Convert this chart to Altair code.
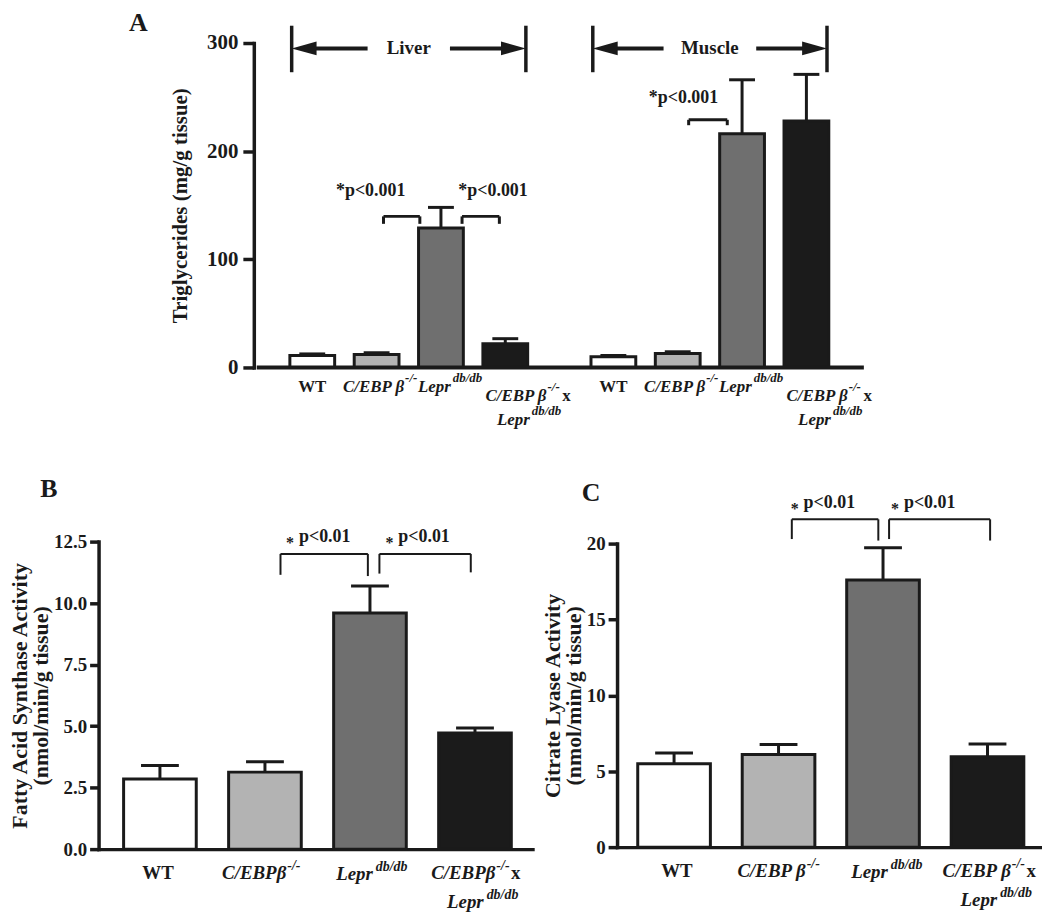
import altair as alt
import pandas as pd

FONT = "Liberation Serif"
INK = "#1a1a1a"

# ---------------- data ----------------
groups = ["WT", "C/EBPb-/-", "Lepr db/db", "C/EBPb-/- x Lepr db/db"]
fills = ["#ffffff", "#b3b3b3", "#6f6f6f", "#1b1b1b"]

# Panel A: triglycerides (mg/g tissue), liver then muscle
a_tissue = ["Liver"] * 4 + ["Muscle"] * 4
a_pos = [0, 1, 2, 3, 4.68, 5.68, 6.68, 7.68]
a_mean = [11, 12, 129, 22, 10, 13, 216, 228]
a_err = [1.5, 1.6, 19, 4.6, 1, 1.5, 50, 43]
a_yticks = [0, 100, 200, 300]
a_sig_x = [0.908, 2.81, 5.77]
a_sig_y = [163, 163, 249]
a_sig_text = ["*p<0.001", "*p<0.001", "*p<0.001"]
# brackets: x_left, x_right, y_top, y_leg_left, y_leg_right
a_brackets = [(1.107, 1.672, 139.7, 132.8, 132.8),
              (2.328, 2.908, 139.7, 132.8, 132.8),
              (5.85, 6.45, 229, 224, 224)]
hdr_name = ["Liver", "Muscle"]
hdr_left = [-0.32, 4.36]
hdr_right = [3.32, 8.0]
hdr_center = [1.5, 6.18]
hdr_gap = [0.64, 0.72]
hdr_y, hdr_y_lo, hdr_y_hi = 295, 273, 316

# Panel B: fatty acid synthase activity
b_pos = [0, 1, 2, 3]
b_mean = [2.85, 3.13, 9.6, 4.72]
b_err = [0.55, 0.42, 1.1, 0.2]
b_yticks = [0, 2.5, 5, 7.5, 10, 12.5]
b_sig_x = [1.324, 2.27]
b_sig_y = [12.7, 12.7]
b_brackets = [(1.148, 1.98, 12.0, 11.15, 11.1),
              (2.09, 2.96, 12.0, 11.2, 11.25)]

# Panel C: citrate lyase activity
c_pos = [0, 1, 2, 3]
c_mean = [5.5, 6.1, 17.6, 5.95]
c_err = [0.7, 0.66, 2.13, 0.85]
c_yticks = [0, 5, 10, 15, 20]
c_sig_x = [1.24, 2.2]
c_sig_y = [22.7, 22.7]
c_brackets = [(1.127, 1.955, 21.6, 20.3, 20.2),
              (2.058, 3.025, 21.6, 20.3, 20.2)]

# ---------------- layout (pixels) ----------------
A_W, A_H = 774, 326
A_XDOM = [-3.244, 8.573]
A_YAX_OFFSET = -156
B_W, B_H = 436, 309
B_XDOM = [-0.537, 3.5]
C_W, C_H = 427, 305
C_XDOM = [-0.498, 3.474]


def encoders(xdom, ydom, yaxis, xaxis):
    def X(f):
        return alt.X(f, type="quantitative", scale=alt.Scale(domain=xdom, nice=False, zero=False), axis=xaxis)

    def Y(f):
        return alt.Y(f, type="quantitative", scale=alt.Scale(domain=ydom, nice=False, zero=False), axis=yaxis)
    return X, Y


def bars_layers(pos, mean, err, X, Y, bar_w, cap_w, lw):
    df = pd.DataFrame({"pos": pos, "mean": mean, "hi": [m + e for m, e in zip(mean, err)],
                       "fill": (fills * 2)[:len(pos)]})
    rule = alt.Chart(df).mark_rule(color=INK, strokeWidth=lw).encode(x=X("pos"), y=Y("mean"), y2="hi:Q")
    cap = alt.Chart(df).mark_tick(orient="horizontal", color=INK, size=cap_w, thickness=lw, opacity=1).encode(
        x=X("pos"), y=Y("hi"))
    bar = alt.Chart(df).mark_bar(size=bar_w, stroke=INK, strokeWidth=3).encode(
        x=X("pos"), y=Y("mean"), fill=alt.Fill("fill:N", scale=None))
    return [rule, cap, bar]


def segs_layer(segs, X, Y, lw):
    df = pd.DataFrame(segs, columns=["x", "x2", "y", "y2"])
    return alt.Chart(df).mark_rule(color=INK, strokeWidth=lw).encode(x=X("x"), x2="x2:Q", y=Y("y"), y2="y2:Q")


def bracket_segs(brs):
    out = []
    for xl, xr, yt, yl, yr in brs:
        out.append((xl, xr, yt, yt))
        out.append((xl, xl, yl, yt))
        out.append((xr, xr, yr, yt))
    return out


def label_layers(pieces, xs, ys, X, Y):
    df = pd.DataFrame(pieces, columns=["pos", "dx", "dy", "text", "style", "align", "size"])
    df["lx"] = df["pos"] + df["dx"] / xs
    df["ly"] = -df["dy"] / ys
    out = []
    for (style, align), sub in df.groupby(["style", "align"]):
        out.append(alt.Chart(sub.reset_index(drop=True)).mark_text(
            font=FONT, fontWeight="bold", fontStyle=style, align=align, baseline="middle", color=INK
        ).encode(x=X("lx"), y=Y("ly"), text="text:N", size=alt.Size("size:Q", scale=None)))
    return out


def letter(ch, px, py):
    return alt.Chart(pd.DataFrame({"t": [ch]})).mark_text(
        font=FONT, fontWeight="bold", fontSize=26, color=INK, align="center", baseline="middle"
    ).encode(text="t:N", x=alt.value(px), y=alt.value(py))


# ---------------- Panel A ----------------
a_yaxis = alt.Axis(values=a_yticks, offset=A_YAX_OFFSET, title="Triglycerides (mg/g tissue)",
                   titleFontSize=21, titlePadding=16, labelFontSize=21, tickSize=11, labelPadding=5,
                   domainWidth=3.5, tickWidth=3.5)
XA, YA = encoders(A_XDOM, [0, 300], a_yaxis, None)
a_px_x = 65.5
a_px_y = A_H / 300

a_layers = bars_layers(a_pos, a_mean, a_err, XA, YA, 45, 26, 3)
a_layers.append(segs_layer([(-0.863, A_XDOM[1], 0, 0)], XA, YA, 4))
a_layers.append(segs_layer(bracket_segs(a_brackets), XA, YA, 3))
a_sig = pd.DataFrame({"x": a_sig_x, "y": a_sig_y, "t": a_sig_text})
a_layers.append(alt.Chart(a_sig).mark_text(font=FONT, fontWeight="bold", fontSize=18, color=INK,
                                           baseline="middle").encode(x=XA("x"), y=YA("y"), text="t:N"))
# Liver / Muscle headers
hdr_segs = []
for l, r in zip(hdr_left, hdr_right):
    hdr_segs += [(l, l, hdr_y_lo, hdr_y_hi), (r, r, hdr_y_lo, hdr_y_hi)]
hdr_shafts = []
for l, r, c, g in zip(hdr_left, hdr_right, hdr_center, hdr_gap):
    hdr_shafts += [(l + 0.2, c - g, hdr_y, hdr_y), (c + g, r - 0.2, hdr_y, hdr_y)]
a_layers.append(segs_layer(hdr_segs, XA, YA, 3.5))
a_layers.append(segs_layer(hdr_shafts, XA, YA, 4))
heads_l = pd.DataFrame({"x": hdr_left, "y": [hdr_y] * 2})
heads_r = pd.DataFrame({"x": hdr_right, "y": [hdr_y] * 2})
a_layers.append(alt.Chart(heads_l).mark_point(shape="M-1,0L1,-0.55L1,0.55Z", filled=True, size=625, color=INK,
                                              opacity=1, xOffset=12.5).encode(x=XA("x"), y=YA("y")))
a_layers.append(alt.Chart(heads_r).mark_point(shape="M1,0L-1,-0.55L-1,0.55Z", filled=True, size=625, color=INK,
                                              opacity=1, xOffset=-12.5).encode(x=XA("x"), y=YA("y")))
hdr_df = pd.DataFrame({"x": hdr_center, "y": [hdr_y] * 2, "t": hdr_name})
a_layers.append(alt.Chart(hdr_df).mark_text(font=FONT, fontWeight="bold", fontSize=19, color=INK,
                                            baseline="middle").encode(x=XA("x"), y=YA("y"), text="t:N"))
a_pieces = []
for base in [a_pos[0], a_pos[4]]:
    a_pieces += [
        (base + 0, 0, 20, "WT", "normal", "center", 17),
        (base + 1, 28, 20, "C/EBP β", "italic", "right", 17),
        (base + 1, 29, 11, "-/-", "italic", "left", 13),
        (base + 2, 10, 20, "Lepr", "italic", "right", 17),
        (base + 2, 12, 11, "db/db", "italic", "left", 13),
        (base + 3, 42, 29, "C/EBP β", "italic", "right", 17),
        (base + 3, 43, 20, "-/-", "italic", "left", 13),
        (base + 3, 58, 29, "x", "normal", "left", 17),
        (base + 3, 25, 53, "Lepr", "italic", "right", 17),
        (base + 3, 27, 44, "db/db", "italic", "left", 13),
    ]
a_layers += label_layers(a_pieces, a_px_x, a_px_y, XA, YA)
a_layers.append(letter("A", 40, -20))
chartA = alt.layer(*a_layers).properties(width=A_W, height=A_H)

# ---------------- Panel B / C ----------------
x_dom_axis = alt.Axis(labels=False, ticks=False, title=None, domainWidth=3.5, grid=False)


def small_panel(pos, mean, err, xdom, ydom, W, H, yticks, fmt, ytitle, sig_x, sig_y, brs, pieces, let, let_xy,
                px_x):
    yaxis = alt.Axis(values=yticks, format=fmt, title=ytitle, titleFontSize=22, titleLineHeight=21,
                     titlePadding=1, labelFontSize=19, tickSize=9, labelPadding=3, domainWidth=3.5, tickWidth=3.5)
    X, Y = encoders(xdom, ydom, yaxis, x_dom_axis)
    px_y = H / ydom[1]
    layers = bars_layers(pos, mean, err, X, Y, 73, 38, 3)
    layers.append(segs_layer(bracket_segs(brs), X, Y, 2))
    sig = pd.DataFrame({"x": sig_x, "y": sig_y, "t": ["p<0.01"] * len(sig_x), "s": ["*"] * len(sig_x)})
    layers.append(alt.Chart(sig).mark_text(font=FONT, fontWeight="bold", fontSize=18, color=INK, align="left",
                                           baseline="middle").encode(x=X("x"), y=Y("y"), text="t:N"))
    layers.append(alt.Chart(sig).mark_text(font=FONT, fontWeight="bold", fontSize=16, color=INK, align="right",
                                           baseline="middle", dx=-5, dy=6).encode(x=X("x"), y=Y("y"), text="s:N"))
    layers += label_layers(pieces, px_x, px_y, X, Y)
    layers.append(letter(let, *let_xy))
    return alt.layer(*layers).properties(width=W, height=H)


b_pieces = [
    (0, -2, 24, "WT", "normal", "center", 19),
    (1, 22, 24, "C/EBPβ", "italic", "right", 19),
    (1, 23, 17, "-/-", "italic", "left", 14),
    (2, 3, 25, "Lepr", "italic", "right", 19),
    (2, 6, 18, "db/db", "italic", "left", 14),
    (3, 21, 24, "C/EBPβ", "italic", "right", 19),
    (3, 22, 17, "-/-", "italic", "left", 14),
    (3, 37, 24, "x", "normal", "left", 19),
    (3, 9, 53, "Lepr", "italic", "right", 19),
    (3, 12, 46, "db/db", "italic", "left", 14),
]
c_pieces = [
    (0, 3, 24, "WT", "normal", "center", 19),
    (1, 28, 24, "C/EBP β", "italic", "right", 19),
    (1, 29, 17, "-/-", "italic", "left", 14),
    (2, 5, 25, "Lepr", "italic", "right", 19),
    (2, 8, 18, "db/db", "italic", "left", 14),
    (3, 24, 24, "C/EBP β", "italic", "right", 19),
    (3, 25, 17, "-/-", "italic", "left", 14),
    (3, 40, 24, "x", "normal", "left", 19),
    (3, 10, 53, "Lepr", "italic", "right", 19),
    (3, 13, 46, "db/db", "italic", "left", 14),
]

chartB = small_panel(b_pos, b_mean, b_err, B_XDOM, [0, 12.5], B_W, B_H, b_yticks, ".1f",
                     ["Fatty Acid Synthase Activity", "(nmol/min/g tissue)"], b_sig_x, b_sig_y, b_brackets,
                     b_pieces, "B", (-50, -53), 108)
chartC = small_panel(c_pos, c_mean, c_err, C_XDOM, [0, 20], C_W, C_H, c_yticks, "d",
                     ["Citrate Lyase Activity", "(nmol/min/g tissue)"], c_sig_x, c_sig_y, c_brackets,
                     c_pieces, "C", (-26, -51), 107.5)

bottom = alt.hconcat(chartB, chartC, spacing=85, bounds="flush", center=True)
chart = alt.vconcat(chartA, bottom, spacing=175, bounds="flush").properties(
    padding={"left": 0, "top": 0, "right": 0, "bottom": 0}
).configure_view(stroke=None).configure_axis(
    domainColor=INK, tickColor=INK, labelColor=INK, titleColor=INK,
    labelFont=FONT, titleFont=FONT, labelFontWeight="bold", titleFontWeight="bold",
    grid=False, domainCap="square"
)

chart.save("out.html", embed_options={"renderer": "svg", "actions": False})
